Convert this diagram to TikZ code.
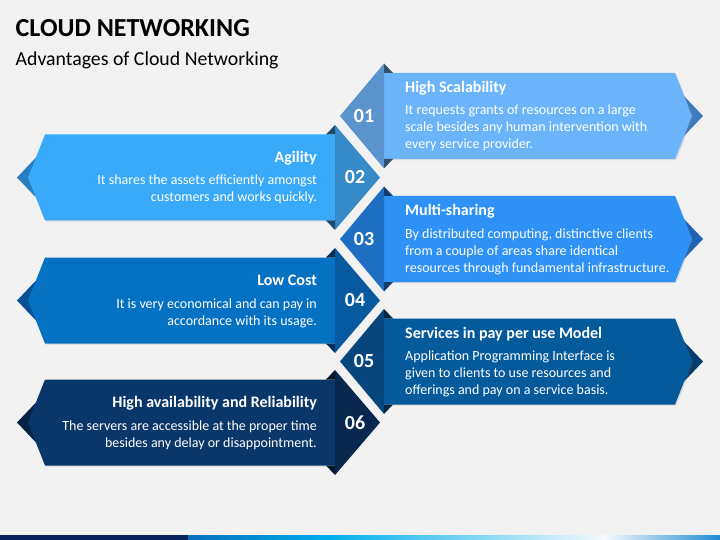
\documentclass[tikz,border=0pt]{standalone}
\usepackage{fontspec}
\setmainfont{Carlito}
\usetikzlibrary{shadows}
\definecolor{bg}{HTML}{F2F2F2}
\definecolor{banA}{RGB}{108,180,250}
\definecolor{triA}{RGB}{91,148,205}
\definecolor{chvA}{RGB}{62,122,190}
\definecolor{banB}{RGB}{57,170,250}
\definecolor{triB}{RGB}{55,138,200}
\definecolor{chvB}{RGB}{40,125,195}
\definecolor{banC}{RGB}{45,145,245}
\definecolor{triC}{RGB}{30,110,195}
\definecolor{chvC}{RGB}{30,100,180}
\definecolor{banD}{RGB}{5,113,194}
\definecolor{triD}{RGB}{8,90,160}
\definecolor{chvD}{RGB}{5,80,150}
\definecolor{banE}{RGB}{5,90,155}
\definecolor{triE}{RGB}{6,70,125}
\definecolor{chvE}{RGB}{5,60,110}
\definecolor{banF}{RGB}{10,55,105}
\definecolor{triF}{RGB}{8,40,80}
\definecolor{chvF}{RGB}{6,35,70}
\definecolor{navy}{RGB}{10,35,95}
\definecolor{barblue}{RGB}{10,110,190}
\definecolor{barcyan}{RGB}{0,175,235}
\definecolor{barwhite}{RGB}{245,250,252}
\definecolor{barend}{RGB}{30,140,210}
\tikzset{
  banner/.style={drop shadow={shadow xshift=1.2pt, shadow yshift=-1.2pt, opacity=0.22}},
  numtxt/.style={text=white, inner sep=0pt, font=\fontsize{20}{20}\selectfont\bfseries},
  ttl/.style={text=white, inner sep=0pt, font=\fontsize{16}{16}\selectfont\bfseries},
  bodytxt/.style={text=white, inner sep=0pt, font=\fontsize{14}{14}\selectfont},
}
\newcommand\RItem[5]{%
  \fill[#5] (684,#2-20) -- (703,#2) -- (684,#2+20) -- cycle;
  \fill[banner,#3] (384,#2-43) -- (675,#2-43) -- (692,#2) -- (675,#2+43) -- (384,#2+43) -- cycle;
  \fill[#4] (340,#2) -- (384,#2-52.5) -- (384,#2+52.5) -- cycle;
  \fill[#4!55!black] (384,#2-52.5) -- (393,#2-43) -- (384,#2-43) -- cycle;
  \fill[#4!55!black] (384,#2+52.5) -- (393,#2+43) -- (384,#2+43) -- cycle;
  \node[numtxt] (n#1) at (364,#2) {0#1};
}
\newcommand\LItem[5]{%
  \fill[#5] (36,#2-20) -- (17,#2) -- (36,#2+20) -- cycle;
  \fill[banner,#3] (335,#2-43) -- (45,#2-43) -- (28,#2) -- (45,#2+43) -- (335,#2+43) -- cycle;
  \fill[#4] (380,#2) -- (335,#2-52.5) -- (335,#2+52.5) -- cycle;
  \fill[#4!55!black] (335,#2-52.5) -- (326,#2-43) -- (335,#2-43) -- cycle;
  \fill[#4!55!black] (335,#2+52.5) -- (326,#2+43) -- (335,#2+43) -- cycle;
  \node[numtxt] (n#1) at (355,#2) {0#1};
}
\begin{document}
\begin{tikzpicture}[x=1pt,y=-1pt]
\useasboundingbox (0,0) rectangle (720,540);
\fill[bg] (0,0) rectangle (720,540);
% header
\node[anchor=base west, inner sep=0pt, font=\fontsize{26}{26}\selectfont\bfseries] (title) at (15.5,36.5) {CLOUD NETWORKING};
\node[anchor=base west, inner sep=0pt, font=\fontsize{19.8}{20}\selectfont] (subtitle) at (15.5,65.7) {Advantages of Cloud Networking};
% items
\RItem{1}{116}{banA}{triA}{chvA}
\LItem{2}{177.5}{banB}{triB}{chvB}
\RItem{3}{239}{banC}{triC}{chvC}
\LItem{4}{300.5}{banD}{triD}{chvD}
\RItem{5}{361.5}{banE}{triE}{chvE}
\LItem{6}{422.5}{banF}{triF}{chvF}
% texts item 1
\node[ttl, anchor=base west] (t1) at (405,92.7) {High Scalability};
\node[bodytxt, anchor=base west] (b1a) at (405,115) {It requests grants of resources on a large};
\node[bodytxt, anchor=base west] (b1b) at (405,132) {scale besides any human intervention with};
\node[bodytxt, anchor=base west] (b1c) at (405,149) {every service provider.};
% item 2
\node[ttl, anchor=base east] (t2) at (317,162.7) {Agility};
\node[bodytxt, anchor=base east] (b2a) at (317,185) {It shares the assets efficiently amongst};
\node[bodytxt, anchor=base east] (b2b) at (317,202) {customers and works quickly.};
% item 3
\node[ttl, anchor=base west] (t3) at (405,215.7) {Multi-sharing};
\node[bodytxt, anchor=base west] (b3a) at (405,238) {By distributed computing, distinctive clients};
\node[bodytxt, anchor=base west] (b3b) at (405,255) {from a couple of areas share identical};
\node[bodytxt, anchor=base west] (b3c) at (405,272) {resources through fundamental infrastructure.};
% item 4
\node[ttl, anchor=base east] (t4) at (317,285.7) {Low Cost};
\node[bodytxt, anchor=base east] (b4a) at (317,308) {It is very economical and can pay in};
\node[bodytxt, anchor=base east] (b4b) at (317,325) {accordance with its usage.};
% item 5
\node[ttl, anchor=base west] (t5) at (405,338.2) {Services in pay per use Model};
\node[bodytxt, anchor=base west] (b5a) at (405,360.5) {Application Programming Interface is};
\node[bodytxt, anchor=base west] (b5b) at (405,377.5) {given to clients to use resources and};
\node[bodytxt, anchor=base west] (b5c) at (405,394.5) {offerings and pay on a service basis.};
% item 6
\node[ttl, anchor=base east] (t6) at (317,407.7) {High availability and Reliability};
\node[bodytxt, anchor=base east] (b6a) at (317,430) {The servers are accessible at the proper time};
\node[bodytxt, anchor=base east] (b6b) at (317,447) {besides any delay or disappointment.};
% bottom bar
\fill[navy] (0,535) rectangle (188,540);
\shade[left color=barblue, right color=barcyan] (188,535) rectangle (330,540);
\shade[left color=barcyan, right color=barwhite] (329.5,535) rectangle (605,540);
\shade[left color=barwhite, right color=barend] (604.5,535) rectangle (720,540);
\end{tikzpicture}
\end{document}
